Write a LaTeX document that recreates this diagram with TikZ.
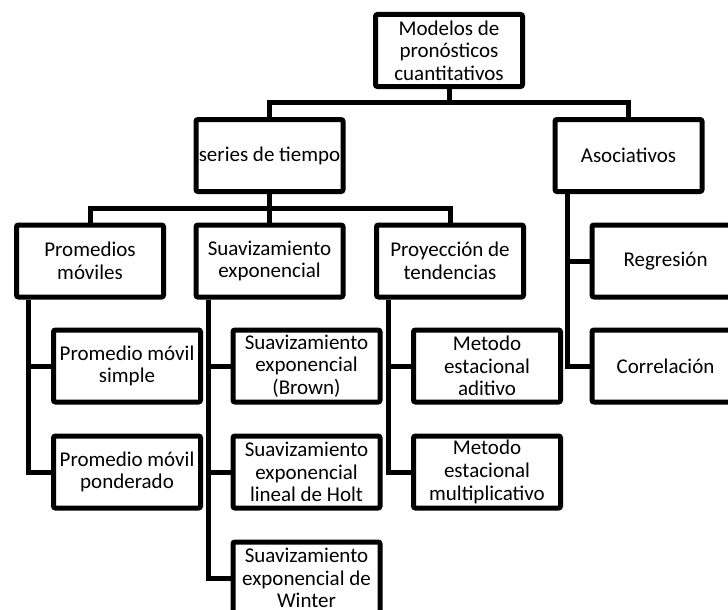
\documentclass[tikz,border=0pt]{standalone}
\usepackage{fontspec}
\setmainfont{Carlito}
\begin{document}
\begin{tikzpicture}[x=1pt,y=1pt,
  line width=5pt,
  box/.style={draw=black, rounded corners=2pt, minimum width=147pt, minimum height=72pt,
    inner sep=0pt, align=center, font=\fontsize{21}{22.7}\selectfont},
  link/.style={draw=black, line width=5pt}]
\useasboundingbox (0,0) rectangle (728,-610);
\clip (0,0) rectangle (728,-610);

% level 0
\node[box] (top) at (449,-50.5) {Modelos de\\pronósticos\\cuantitativos};
% level 1
\node[box] (series) at (269.5,-155.5) {series de tiempo};
\node[box] (asoc) at (628.5,-155.5) {Asociativos};
% level 2
\node[box] (prom) at (90,-261) {Promedios\\móviles};
\node[box] (suav) at (269.5,-261) {Suavizamiento\\exponencial};
\node[box] (proy) at (450,-261) {Proyección de\\tendencias};
% leaves
\node[box] (pms) at (127,-366) {Promedio móvil\\simple};
\node[box] (pmp) at (127,-472) {Promedio móvil\\ponderado};
\node[box] (brown) at (306.5,-366) {Suavizamiento\\exponencial\\(Brown)};
\node[box] (holt) at (306.5,-472) {Suavizamiento\\exponencial\\lineal de Holt};
\node[box] (winter) at (306.5,-578) {Suavizamiento\\exponencial de\\Winter};
\node[box] (adit) at (487,-366) {Metodo\\estacional\\aditivo};
\node[box] (mult) at (487,-472) {Metodo\\estacional\\multiplicativo};
\node[box] (regr) at (665.5,-261) {Regresión};
\node[box] (corr) at (665.5,-366) {Correlación};

% buses
\coordinate (bus1) at (449,-102);
\coordinate (bus2) at (269.5,-208.5);

\draw[link] (top.south) -- (bus1);
\draw[link] (series.north) |- (bus1) -| (asoc.north);
\draw[link] (series.south) -- (bus2);
\draw[link] (prom.north) |- (bus2) -| (proy.north);
\draw[link] (suav.north) -- (bus2);

% trunks to the leaves
\coordinate (tp) at ([xshift=14.5pt]prom.south west);
\coordinate (ts) at ([xshift=14.5pt]suav.south west);
\coordinate (tr) at ([xshift=14.5pt]proy.south west);
\coordinate (ta) at ([xshift=14.5pt]asoc.south west);

\draw[link] (tp) |- (pms.west);
\draw[link] (tp) |- (pmp.west);
\draw[link] (ts) |- (brown.west);
\draw[link] (ts) |- (holt.west);
\draw[link] (ts) |- (winter.west);
\draw[link] (tr) |- (adit.west);
\draw[link] (tr) |- (mult.west);
\draw[link] (ta) |- (regr.west);
\draw[link] (ta) |- (corr.west);
\end{tikzpicture}
\end{document}
